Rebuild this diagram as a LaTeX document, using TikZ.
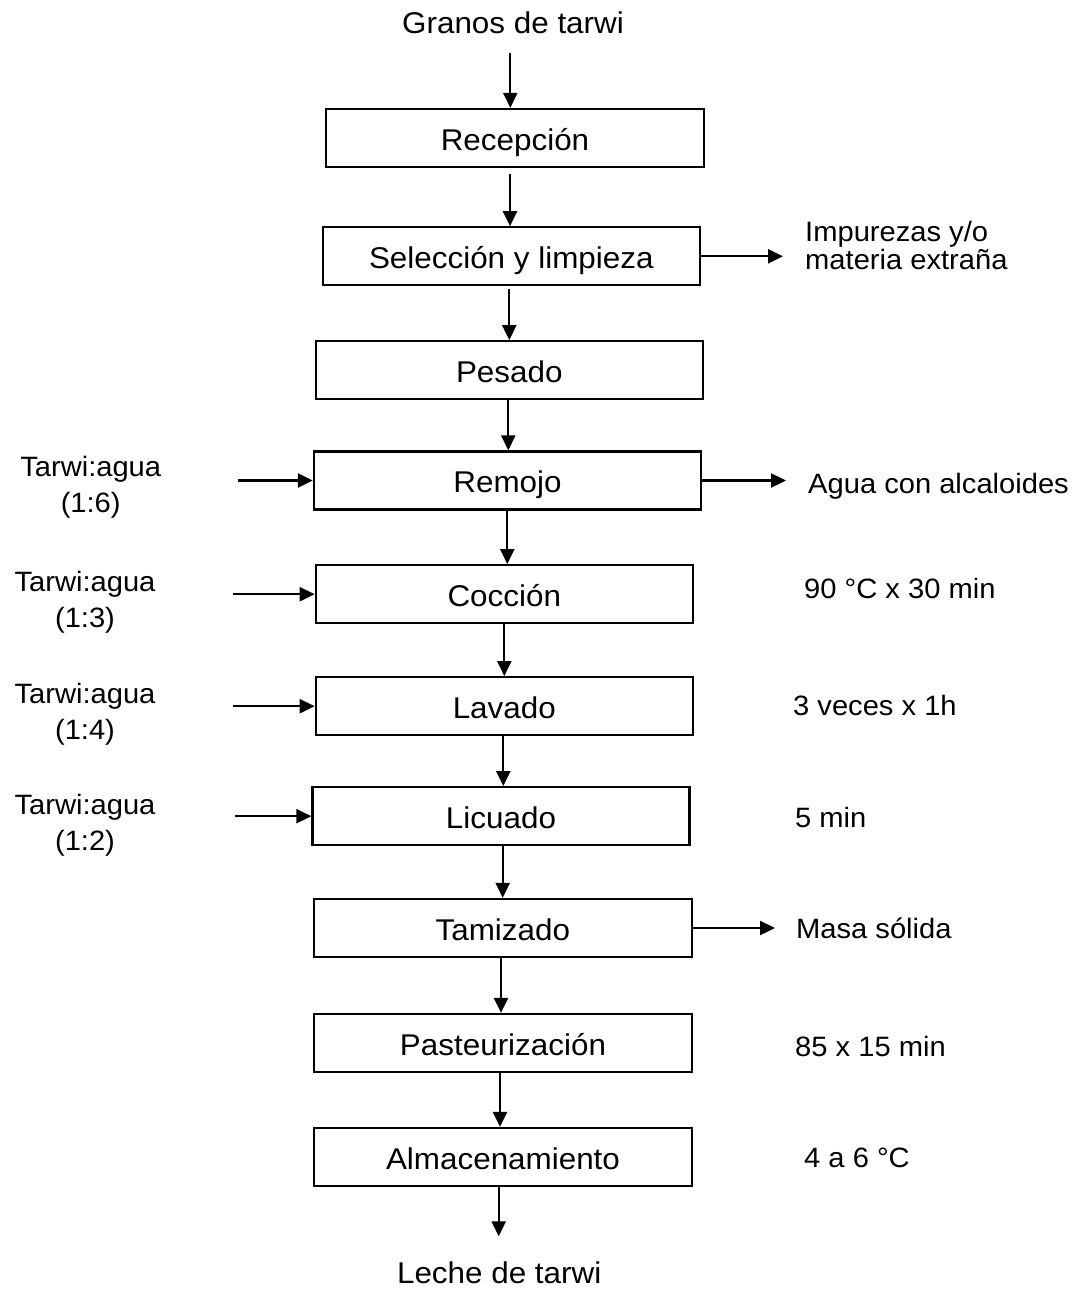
\documentclass[tikz,border=0pt]{standalone}
\usepackage{fontspec}
\setmainfont{Liberation Sans}
\newfontfamily\boxfnt{Liberation Sans}[FakeStretch=1.047]
\newfontfamily\sidefnt{Liberation Sans}[FakeStretch=1.04]
\usetikzlibrary{arrows.meta,calc}
\begin{document}
\begin{tikzpicture}[x=1pt,y=-1pt,
 procbox/.style={draw, line width=2.3pt, inner sep=0pt, minimum height=58pt, text height=24pt, text depth=0pt, font=\boxfnt\fontsize{30}{34}\selectfont},
 flow/.style={line width=2.3pt, -{Triangle[length=15pt,width=14pt]}},
 endtxt/.style={inner sep=0pt, font=\boxfnt\fontsize{30}{34}\selectfont},
 sidetxt/.style={inner sep=0pt, font=\sidefnt\fontsize{28}{28.5}\selectfont},
 intxt/.style={inner sep=0pt, font=\sidefnt\fontsize{28}{36}\selectfont, align=center}]
\useasboundingbox[fill=white] (0,0) rectangle (1090,1290);

% main process boxes
\node[procbox, minimum width=378pt] (rec) at (515,138) {Recepción};
\node[procbox, minimum width=377pt] (sel) at (511.3,256.3) {Selección y limpieza};
\node[procbox, minimum width=387pt] (pes) at (509.3,370.3) {Pesado};
\node[procbox, minimum width=387pt] (rem) at (507.5,480.5) {Remojo};
\node[procbox, minimum width=377pt] (coc) at (504.3,594.2) {Cocción};
\node[procbox, minimum width=377pt] (lav) at (504.3,706.2) {Lavado};
\node[procbox, minimum width=377pt] (lic) at (501,816.2) {Licuado};
\node[procbox, minimum width=378pt] (tam) at (502.8,928) {Tamizado};
\node[procbox, minimum width=378pt] (pas) at (503,1043) {Pasteurización};
\node[procbox, minimum width=378pt] (alm) at (503,1157) {Almacenamiento};

% start / end
\node[endtxt, anchor=base] (granos) at (513,33.3) {Granos de tarwi};
\node[endtxt, anchor=base] (leche) at (499.2,1283) {Leche de tarwi};

% right texts
\node[sidetxt, anchor=north west, align=left] (imp) at (805,221) {Impurezas y/o\\materia extraña};
\node[sidetxt, anchor=base west] (agua) at (808,493.3) {Agua con alcaloides};
\node[sidetxt, anchor=base west] (t90) at (804,598) {90 °C x 30 min};
\node[sidetxt, anchor=base west] (t3v) at (793,715) {3 veces x 1h};
\node[sidetxt, anchor=base west] (t5) at (795,827.5) {5 min};
\node[sidetxt, anchor=base west] (masa) at (796,938) {Masa sólida};
\node[sidetxt, anchor=base west] (t85) at (795,1056) {85 x 15 min};
\node[sidetxt, anchor=base west] (t46) at (804,1167.7) {4 a 6 °C};

% left inputs
\node[intxt, anchor=north] (w1) at (90.7,456) {Tarwi:agua\\(1:6)};
\node[intxt, anchor=north] (w2) at (85,571) {Tarwi:agua\\(1:3)};
\node[intxt, anchor=north] (w3) at (85,682.6) {Tarwi:agua\\(1:4)};
\node[intxt, anchor=north] (w4) at (85,794.3) {Tarwi:agua\\(1:2)};

% vertical flow
\draw[flow] ([xshift=-2.7pt,yshift=-19.7pt]granos.south) -- ([xshift=-4.7pt]rec.north);
\draw[flow] ([xshift=-5pt,yshift=-5.7pt]rec.south) -- ([xshift=-1.3pt]sel.north);
\draw[flow] ([xshift=-2pt,yshift=-2.3pt]sel.south) -- (pes.north);
\draw[flow] ([xshift=-1pt]pes.south) -- ([xshift=0.8pt]rem.north);
\draw[flow] ([xshift=-0.2pt]rem.south) -- ([xshift=3pt]coc.north);
\draw[flow] (coc.south) -- (lav.north);
\draw[flow] ([xshift=-1pt]lav.south) -- ([xshift=2.3pt]lic.north);
\draw[flow] ([xshift=1.7pt]lic.south) -- ([xshift=-0.1pt]tam.north);
\draw[flow] ([xshift=-1.8pt]tam.south) -- ([xshift=-2pt]pas.north);
\draw[flow] ([xshift=-3pt]pas.south) -- ([xshift=-3pt]alm.north);
\draw[flow] ([xshift=-4.3pt]alm.south) -- ([xshift=-0.5pt,yshift=24.7pt]leche.north);

% outputs to the right
\draw[flow] (sel.east) -- ($(sel.east -| imp.west)+(-22,0)$);
\draw[flow] (rem.east) -- ($(rem.east -| agua.west)+(-22,0)$);
\draw[flow] (tam.east) -- ($(tam.east -| masa.west)+(-21,0)$);

% inputs from the left
\draw[flow] ($(rem.west -| w1.east)+(77,0)$) -- (rem.west);
\draw[flow] ($(coc.west -| w2.east)+(77,0)$) -- (coc.west);
\draw[flow] ($(lav.west -| w3.east)+(77,0)$) -- (lav.west);
\draw[flow] ($(lic.west -| w4.east)+(79,0)$) -- (lic.west);
\end{tikzpicture}
\end{document}
